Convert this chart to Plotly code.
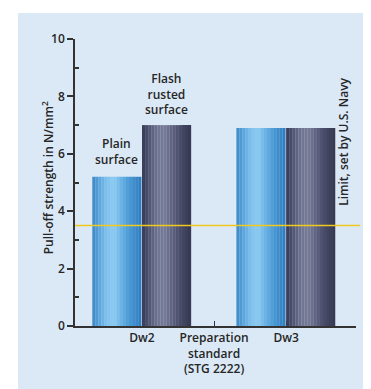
import plotly.graph_objects as go

# ---- data ----
positions = [0, 1, 2]
tick_labels = ["Dw2", "Preparation<br>standard<br>(STG 2222)", "Dw3"]
plain_values = [5.2, None, 6.9]
flash_values = [7.0, None, 6.9]
series_names = ["Plain surface", "Flash rusted surface"]
limit_value = 3.5
limit_label = "Limit, set by U.S. Navy"
y_title = "Pull-off strength in N/mm<sup>2</sup>"

# ---- style ----
FONT = "Open Sans"
TXT = "#262626"
BG = "#dbe9f6"
N_SLICES = 16


def hex2rgb(h):
    h = h.lstrip("#")
    return [int(h[i:i + 2], 16) for i in (0, 2, 4)]


def shade_list(keys, n):
    # keys: list of (position 0..1, hex colour)
    out = []
    for i in range(n):
        t = (i + 0.5) / n
        for (p0, c0), (p1, c1) in zip(keys[:-1], keys[1:]):
            if p0 <= t <= p1:
                f = (t - p0) / (p1 - p0)
                a, b = hex2rgb(c0), hex2rgb(c1)
                out.append("rgb(%d,%d,%d)" % tuple(round(a[j] + (b[j] - a[j]) * f) for j in range(3)))
                break
    return out


light_shades = shade_list([(0, "#3a88c8"), (0.3, "#7fc2ee"), (0.45, "#8ccaf2"), (0.75, "#4a9ad6"), (1, "#2f7bbd")], N_SLICES)
dark_shades = shade_list([(0, "#363a56"), (0.3, "#6e7390"), (0.45, "#777c99"), (0.75, "#4b4f6d"), (1, "#33374f")], N_SLICES)

bar_w = 0.68
sw = bar_w / N_SLICES

fig = go.Figure()


def add_cylinder(values, shades, start_offset, name):
    for k, c in enumerate(shades):
        fig.add_trace(go.Bar(
            x=positions, y=values, width=sw * 1.05, offset=start_offset + k * sw,
            marker=dict(color=c, line=dict(width=0)), name=name,
            showlegend=False, hoverinfo="skip" if k else "y",
        ))


add_cylinder(plain_values, light_shades, -0.69, series_names[0])
add_cylinder(flash_values, dark_shades, 0.0, series_names[1])

tfont = dict(family=FONT, size=12, color=TXT, weight=600)

# bar labels
fig.add_annotation(x=positions[0] - 0.35, y=plain_values[0], text="Plain<br>surface",
                   showarrow=False, yanchor="bottom", yshift=7, font=tfont)
fig.add_annotation(x=positions[0] + 0.34, y=flash_values[0], text="Flash<br>rusted<br>surface",
                   showarrow=False, yanchor="bottom", yshift=5, font=tfont)

# limit line
fig.add_shape(type="line", xref="paper", x0=0, x1=1.015, yref="y", y0=limit_value, y1=limit_value,
              line=dict(color="#f0c81e", width=1.5), layer="above")
fig.add_annotation(xref="paper", yref="paper", x=0.993, y=0.64, text=limit_label, textangle=-90,
                   showarrow=False, font=tfont)
# y title
fig.add_annotation(xref="paper", yref="paper", x=-0.135, y=0.515, text=y_title, textangle=-90,
                   showarrow=False, font=tfont)

# background panel with white frame
fig.add_shape(type="rect", xref="paper", yref="paper",
              x0=(10 - 67) / 281, x1=(367 - 67) / 281, y0=(318 - 386) / 287, y1=(318 - 5) / 287,
              fillcolor=BG, line=dict(width=0), layer="below")

fig.update_layout(
    width=371, height=389,
    margin=dict(l=67, r=23, t=31, b=71),
    paper_bgcolor="white", plot_bgcolor="rgba(0,0,0,0)",
    barmode="overlay",
    font=dict(family=FONT, size=12, color=TXT),
    showlegend=False,
)
fig.update_xaxes(range=[-0.93, 2.97], tickvals=positions, ticktext=tick_labels,
                 showgrid=False, zeroline=False, showline=True, linecolor="#333", linewidth=1.5,
                 ticks="inside", ticklen=5, tickcolor="#333", layer="below traces",
                 tickfont=tfont)
fig.update_yaxes(range=[0, 10], tickvals=[0, 2, 4, 6, 8, 10], showgrid=False, zeroline=False,
                 showline=True, linecolor="#333", linewidth=1.5, ticks="outside", ticklen=6,
                 tickcolor="#333", tickwidth=1.5,
                 minor=dict(tickvals=[1, 3, 5, 7, 9], ticks="inside", ticklen=4, tickcolor="#333"),
                 tickfont=tfont)

fig.write_html("out.html")
